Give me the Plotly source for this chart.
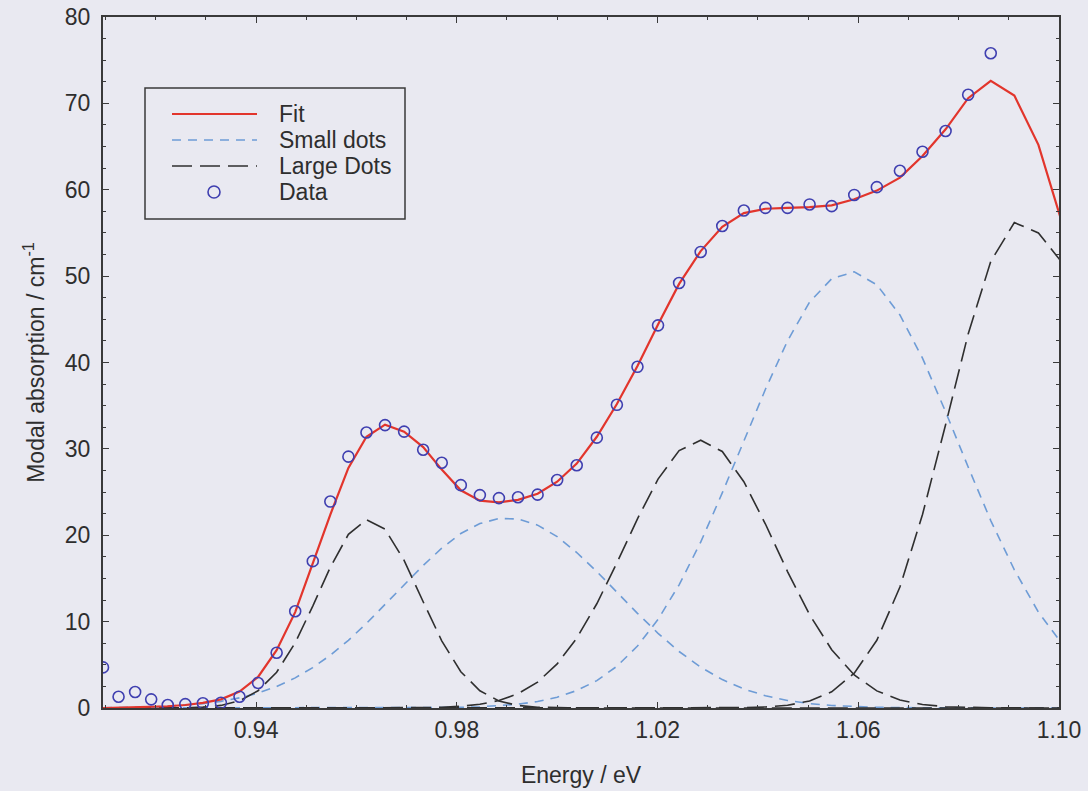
import plotly.graph_objects as go

# Photon energy grid (eV) shared by the measurement, the fit and its components
energy = [0.9095, 0.9126, 0.9159, 0.9191, 0.9224, 0.9259, 0.9294, 0.9330, 0.9367, 0.9404,
          0.9441, 0.9478, 0.9513, 0.9548, 0.9584, 0.9620, 0.9657, 0.9695, 0.9733, 0.9770,
          0.9808, 0.9846, 0.9884, 0.9922, 0.9961, 1.0000, 1.0039, 1.0079, 1.0119, 1.0160,
          1.0201, 1.0243, 1.0286, 1.0329, 1.0372, 1.0415, 1.0459, 1.0503, 1.0547, 1.0592,
          1.0637, 1.0683, 1.0728, 1.0774, 1.0819, 1.0864, 1.0911, 1.0959, 1.1007]

# Measured modal absorption (cm^-1), first 46 energies
measured = [4.7, 1.3, 1.85, 1.0, 0.35, 0.45, 0.55, 0.6, 1.3, 2.9,
            6.4, 11.2, 17.0, 23.9, 29.1, 31.9, 32.75, 32.0, 29.9, 28.4,
            25.8, 24.65, 24.3, 24.4, 24.7, 26.4, 28.1, 31.3, 35.1, 39.5,
            44.3, 49.2, 52.8, 55.8, 57.6, 57.9, 57.9, 58.3, 58.1, 59.4,
            60.3, 62.2, 64.4, 66.8, 71.0, 75.8]

# Total fitted absorption
fit_total = [0.0, 0.05, 0.08, 0.12, 0.2, 0.35, 0.6, 1.0, 1.9, 3.6,
             6.7, 11.1, 16.8, 22.4, 27.8, 31.4, 32.8, 32.0, 30.2, 27.6,
             25.2, 24.0, 23.8, 24.1, 24.8, 26.2, 28.3, 31.4, 35.2, 39.6,
             44.4, 49.1, 52.9, 55.7, 57.3, 57.8, 57.9, 58.0, 58.2, 58.9,
             59.9, 61.4, 63.9, 67.0, 70.6, 72.6, 70.9, 65.2, 56.0]

# Small-dot subset: ground state and first excited state
small_ground = [0.03, 0.05, 0.08, 0.12, 0.20, 0.32, 0.50, 0.77, 1.17, 1.73,
                2.49, 3.49, 4.68, 6.11, 7.84, 9.79, 11.96, 14.26, 16.5, 18.5,
                20.2, 21.35, 21.94, 21.89, 21.17, 19.84, 18.0, 15.8, 13.4, 10.96,
                8.65, 6.54, 4.73, 3.29, 2.2, 1.42, 0.87, 0.51, 0.29, 0.16,
                0.08, 0.04, 0.02, 0.01, 0.0, 0.0, 0.0, 0.0, 0.0]
small_first = [0, 0, 0, 0, 0, 0, 0, 0, 0, 0,
               0, 0, 0, 0, 0, 0, 0, 0.01, 0.02, 0.04,
               0.07, 0.14, 0.25, 0.44, 0.75, 1.25, 2.02, 3.17, 4.83, 7.17,
               10.26, 14.26, 19.2, 24.9, 30.9, 36.9, 42.5, 47.0, 49.7, 50.5,
               49.0, 45.5, 40.5, 34.3, 27.9, 21.7, 16.0, 11.1, 7.36]

# Large-dot subset: ground, first and second excited states
large_ground = [0, 0, 0, 0, 0.01, 0.03, 0.10, 0.30, 0.83, 2.0,
                4.14, 7.56, 11.8, 16.3, 20.1, 21.8, 20.7, 17.1, 12.3, 7.78,
                4.2, 2.0, 0.81, 0.29, 0.09, 0.02, 0.01, 0, 0, 0,
                0, 0, 0, 0, 0, 0, 0, 0, 0, 0,
                0, 0, 0, 0, 0, 0, 0, 0, 0]
large_first = [0, 0, 0, 0, 0, 0, 0, 0, 0, 0,
               0, 0, 0, 0, 0, 0, 0, 0.01, 0.04, 0.09,
               0.2, 0.43, 0.87, 1.65, 3.0, 5.1, 8.08, 12.07, 16.8, 21.9,
               26.5, 29.8, 31.0, 29.7, 26.2, 21.3, 15.8, 10.8, 6.75, 3.82,
               1.98, 0.92, 0.40, 0.15, 0.05, 0.02, 0.01, 0, 0]
large_second = [0, 0, 0, 0, 0, 0, 0, 0, 0, 0,
                0, 0, 0, 0, 0, 0, 0, 0, 0, 0,
                0, 0, 0, 0, 0, 0, 0, 0, 0, 0,
                0, 0, 0, 0.01, 0.04, 0.12, 0.32, 0.81, 1.88, 4.03,
                7.84, 14.0, 22.4, 32.8, 43.3, 51.7, 56.2, 55.0, 51.5]

x_ticks = [0.94, 0.98, 1.02, 1.06, 1.10]
x_tick_text = ["0.94", "0.98", "1.02", "1.06", "1.10"]

legend_labels = ["Fit", "Small dots", "Large Dots", "Data"]

BG = "#e9e9f1"
INK = "#2e2e2e"
AXIS = "#3a3a3a"
FONT = "Liberation Sans, Arial, sans-serif"
FS = 23

W, H = 1088, 791
M = dict(l=103, r=29, t=17, b=83)
PW, PH = W - M["l"] - M["r"], H - M["t"] - M["b"]

fit_style = dict(color="#e2352c", width=2.2)
small_style = dict(color="#6e9cd6", width=1.6, dash="9px,7px")
large_style = dict(color="#2f2f2f", width=1.6, dash="20px,8px")
data_color = "#3f3fb0"

fig = go.Figure()

for ys in [small_ground, small_first]:
    fig.add_trace(go.Scatter(x=energy, y=ys, mode="lines", line=small_style,
                             name="Small dots", showlegend=False))
for ys in [large_ground, large_first, large_second]:
    fig.add_trace(go.Scatter(x=energy, y=ys, mode="lines", line=large_style,
                             name="Large Dots", showlegend=False))

fig.add_trace(go.Scatter(x=energy, y=fit_total, mode="lines", line=fit_style,
                         name="Fit", showlegend=False))
fig.add_trace(go.Scatter(x=energy[:len(measured)], y=measured, mode="markers",
                         marker=dict(symbol="circle-open", size=11,
                                     line=dict(color=data_color, width=1.6),
                                     color=data_color),
                         name="Data", showlegend=False))


# Legend box, laid out in page pixels and converted to paper coordinates
def px(x):
    return (x - M["l"]) / PW


def py(y):
    return (H - M["b"] - y) / PH


shapes = [dict(type="rect", xref="paper", yref="paper",
               x0=px(145), x1=px(405), y0=py(219), y1=py(88),
               line=dict(color=AXIS, width=1.5), fillcolor=BG, layer="above")]
annotations = []
row_y = [114, 140, 166, 192]
samples = [fit_style, small_style, large_style, None]
for label, yy, style in zip(legend_labels, row_y, samples):
    if style is not None:
        shapes.append(dict(type="line", xref="paper", yref="paper",
                           x0=px(172), x1=px(257), y0=py(yy), y1=py(yy),
                           line=style, layer="above"))
    else:
        r = 6
        shapes.append(dict(type="circle", xref="paper", yref="paper",
                           x0=px(214 - r), x1=px(214 + r), y0=py(yy + r), y1=py(yy - r),
                           line=dict(color=data_color, width=1.6), layer="above"))
    annotations.append(dict(text=label, xref="paper", yref="paper",
                            x=px(277), y=py(yy), xanchor="left", yanchor="middle",
                            showarrow=False,
                            font=dict(family=FONT, size=FS, color=INK)))

axis_common = dict(showline=True, linecolor=AXIS, linewidth=2, mirror="ticks",
                   ticks="inside", ticklen=6, tickwidth=1.3, tickcolor=AXIS,
                   showgrid=False, zeroline=False, automargin=False,
                   tickfont=dict(family=FONT, size=FS, color=INK))

fig.update_layout(
    width=W, height=H,
    margin=M,
    paper_bgcolor=BG, plot_bgcolor=BG,
    font=dict(family=FONT, size=FS, color=INK),
    xaxis=dict(range=[0.9095, 1.10], tickvals=x_ticks, ticktext=x_tick_text,
               minor=dict(dtick=0.01, tick0=0.94, ticks="inside", ticklen=3,
                          tickcolor=AXIS, showgrid=False),
               title=dict(text="Energy / eV", standoff=25,
                          font=dict(family=FONT, size=FS, color=INK)),
               **axis_common),
    yaxis=dict(range=[0, 80], dtick=10, tick0=0, ticklabelstandoff=6,
               minor=dict(dtick=2.5, tick0=0, ticks="inside", ticklen=3,
                          tickcolor=AXIS, showgrid=False),
               title=dict(text="Modal absorption / cm<sup>-1</sup>", standoff=14,
                          font=dict(family=FONT, size=FS, color=INK)),
               **axis_common),
    shapes=shapes,
    annotations=annotations,
    showlegend=False,
)

fig.write_html("out.html")
